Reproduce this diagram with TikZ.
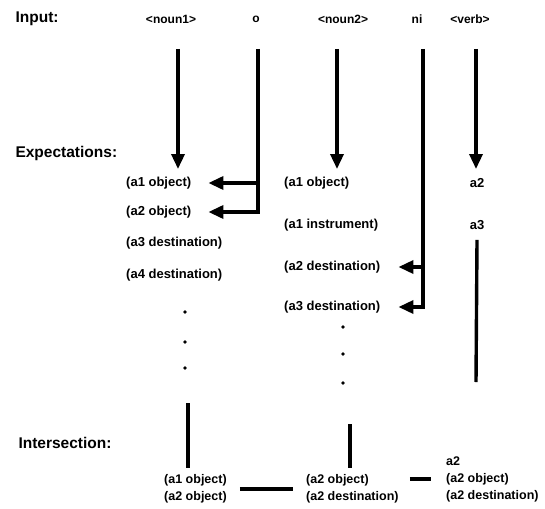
\documentclass[tikz,border=0pt]{standalone}
\usepackage{fontspec}
\setmainfont{Liberation Sans}
\usetikzlibrary{arrows.meta}
\newcommand{\skipdots}[2]{
	\foreach \y in {#2} {
		\fill (#1,\y) circle (1.8pt);
	}
}

\begin{document}
\begin{tikzpicture}[x=1pt,y=-1pt,
		head/.style={anchor=west,font=\fontsize{15.5}{17}\selectfont\bfseries},
		tok/.style={font=\fontsize{12}{14}\selectfont\bfseries},
		expct/.style={anchor=west,inner sep=1pt,font=\fontsize{13}{15}\selectfont\bfseries},
		res/.style={anchor=west,align=left,inner sep=1pt,font=\fontsize{12.5}{17}\selectfont\bfseries},
		bar/.style={line width=3.4pt},
		arr/.style={line width=3.4pt,-{Triangle[length=15pt,width=13pt]}}]
			\useasboundingbox (0,0) rectangle (545,508);
			% row labels
			\node[head] (input) at (12,19) {Input:};
			\node[head] (expect) at (12,153) {Expectations:};
			\node[head] (inter) at (15,443) {Intersection:};
			% input words
			\node[tok] (noun1) at (171,19) {<noun1>};
			\node[tok] (o) at (256,19) {o};
			\node[tok] (noun2) at (343,19) {<noun2>};
			\node[tok] (ni) at (417,19) {ni};
			\node[tok] (verb) at (470,19) {<verb>};
			% expectations
			\node[expct] (l1) at (125,183) {(a1 object)};
			\node[expct] (l2) at (125,212) {(a2 object)};
			\node[expct] (l3) at (125,243) {(a3 destination)};
			\node[expct] (l4) at (125,275) {(a4 destination)};
			\node[expct] (m1) at (283,183) {(a1 object)};
			\node[expct] (m2) at (283,225) {(a1 instrument)};
			\node[expct] (m3) at (283,267) {(a2 destination)};
			\node[expct] (m4) at (283,307) {(a3 destination)};
			\node[expct,anchor=center] (r1) at (477,183) {a2};
			\node[expct,anchor=center] (r2) at (477,225) {a3};
			% intersection
			\node[res] (botl) at (163,489) {(a1 object)\\(a2 object)};
			\node[res] (botm) at (305,489) {(a2 object)\\(a2 destination)};
			\node[res] (botr) at (445,479) {a2\\(a2 object)\\(a2 destination)};
			% arrows from the input
			\foreach \n/\x in {noun1/178,o/258,noun2/337,ni/423,verb/476} {
				\coordinate (\n-top) at (\x,49);
			}
			\foreach \n in {noun1,noun2,verb} {
				\coordinate (\n-tip) at ([yshift=-120pt]\n-top);
				\draw[arr] (\n-top) -- (\n-tip);
			}
			\draw[arr] (o-top) |- ([xshift=16pt]l2.east);
			\draw[arr] (o-top |- l1) -- ([xshift=16pt]l1.east);
			\draw[arr] (ni-top) |- ([xshift=17pt]m4.east);
			\draw[arr] (ni-top |- m3) -- ([xshift=17pt]m3.east);
			\coordinate (vend) at (476,382);
			\draw[bar] ([yshift=-9pt]r2.south) -- (vend);
			% left out items
			\skipdots{185}{312,342,368}
			\skipdots{343}{327,354,383}
			% down to the intersection
			\coordinate (lcut) at (188,403);
			\coordinate (mcut) at (350,424);
			\draw[bar,shorten >=5pt] (lcut) -- (lcut |- botl.north);
			\draw[bar,shorten >=5pt] (mcut) -- (mcut |- botm.north);
			\draw[bar,shorten <=12pt,shorten >=12pt] (botl) -- (botm);
			\draw[bar,shorten <=10pt,shorten >=14pt] (botm.east |- botr) -- (botr.west);
		\end{tikzpicture}
\end{document}
